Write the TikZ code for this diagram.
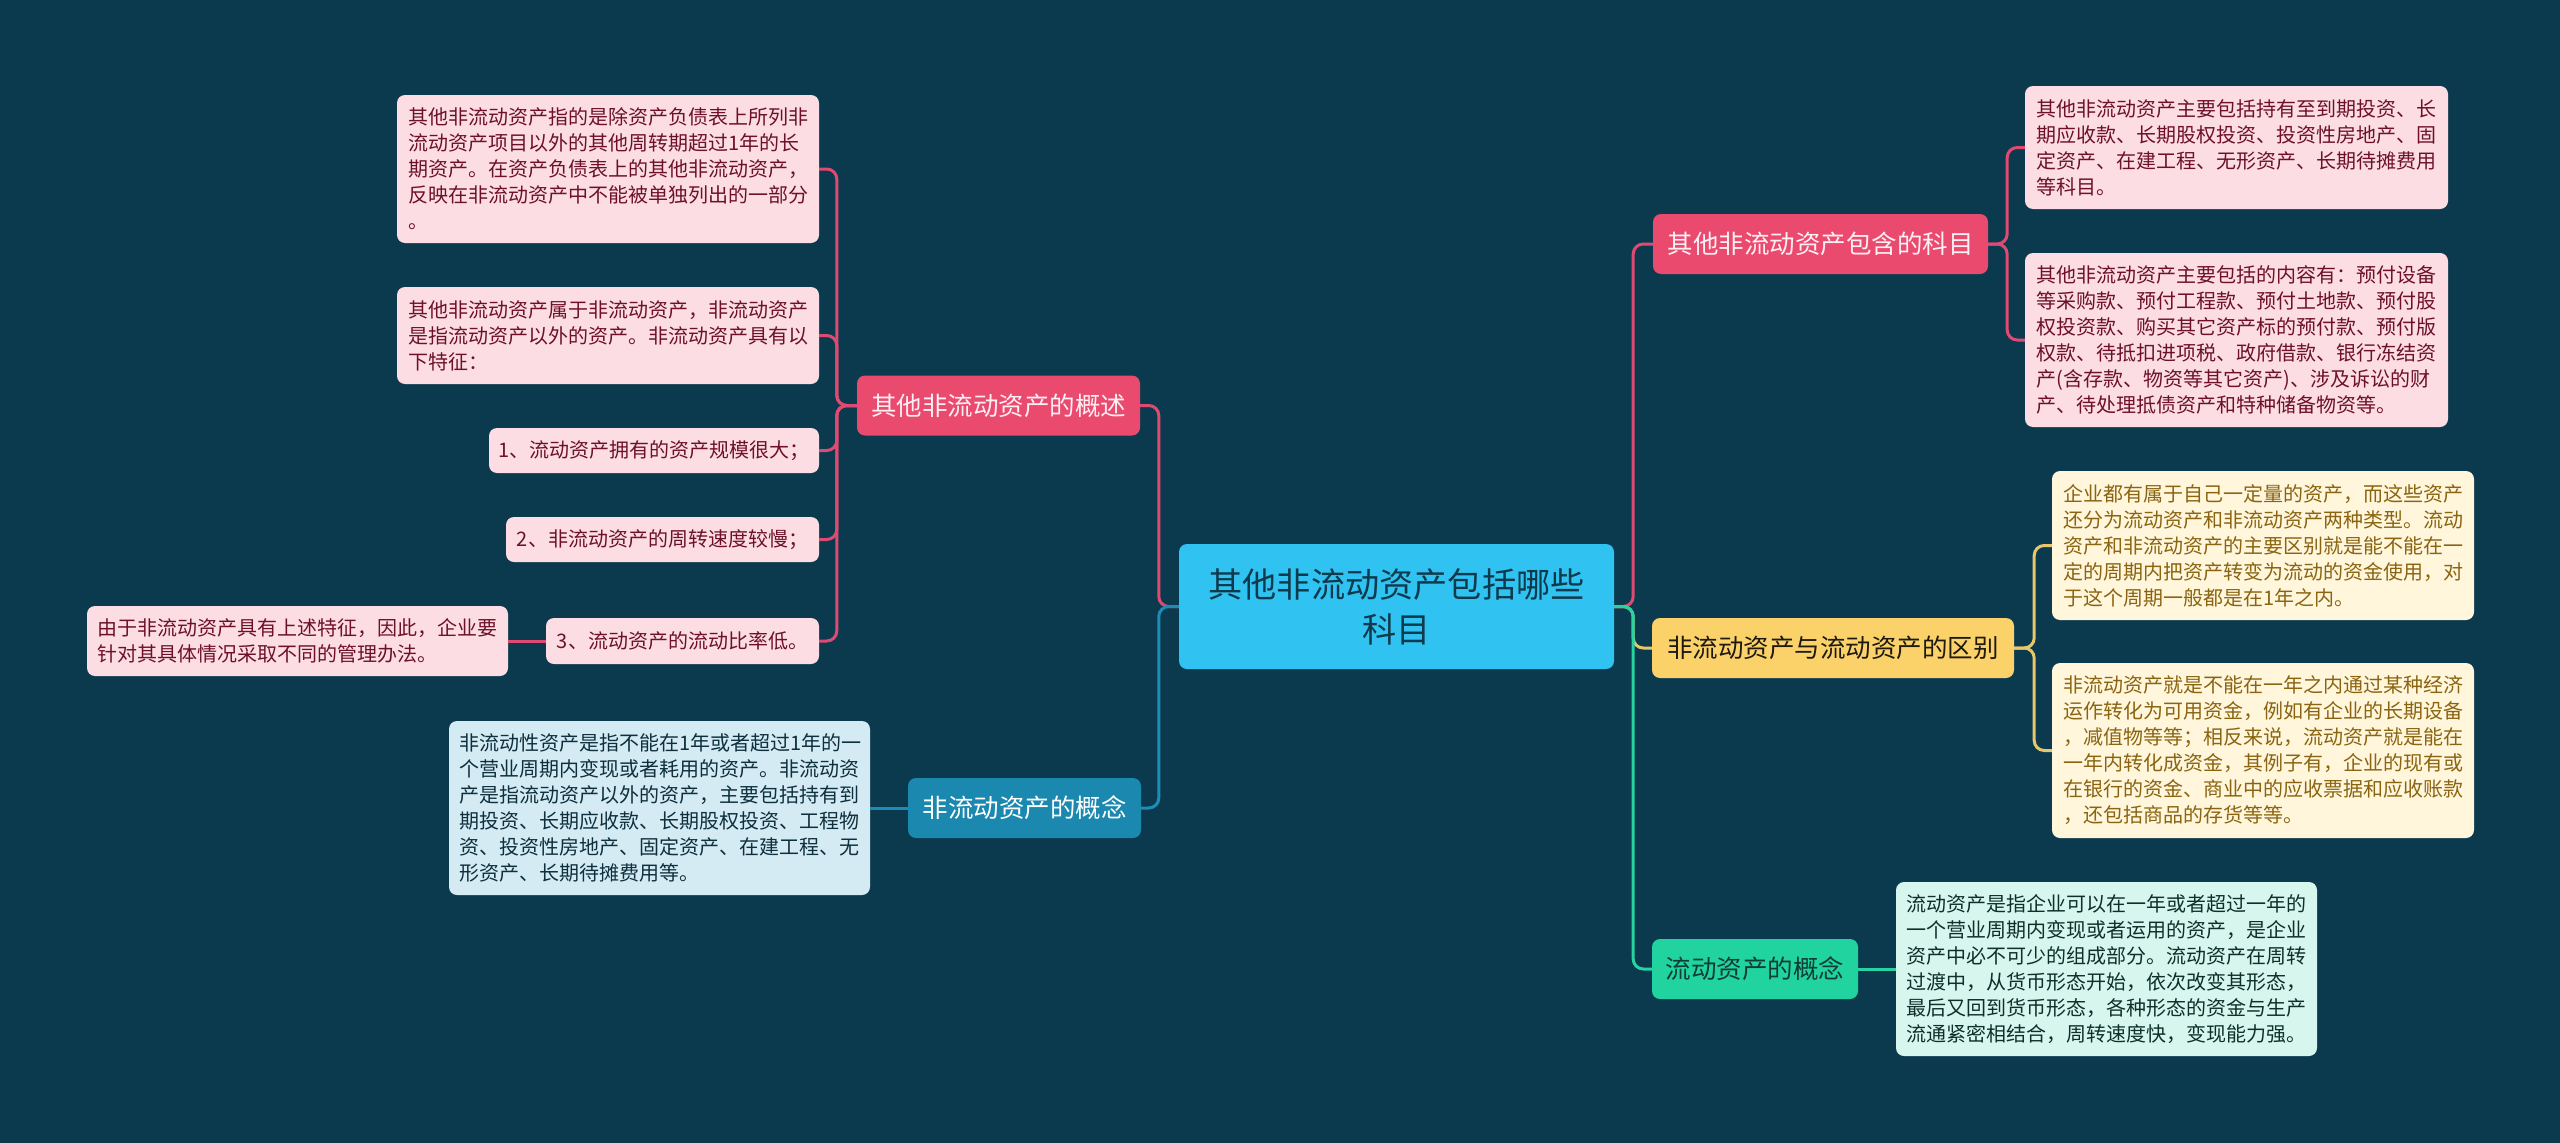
\documentclass[tikz,border=0pt]{standalone}
\usepackage{fontspec}
\newfontfamily\cjk{Noto Sans CJK SC}
\definecolor{bg}{HTML}{0B3A4E}
\definecolor{centerfill}{HTML}{30C3F2}
\definecolor{centertext}{HTML}{0E3A4D}
\definecolor{pinkfill}{HTML}{EB4A6F}
\definecolor{pinktext}{HTML}{FDEFF3}
\definecolor{pinkline}{HTML}{DE4A72}
\definecolor{pleaf}{HTML}{FCDDE4}
\definecolor{pleaftext}{HTML}{6E1128}
\definecolor{bluefill}{HTML}{1A88AF}
\definecolor{blueline}{HTML}{1C8DB6}
\definecolor{bleaf}{HTML}{D5EBF3}
\definecolor{bleaftext}{HTML}{0E2F3D}
\definecolor{yelfill}{HTML}{FBD26A}
\definecolor{yeltext}{HTML}{1E1A10}
\definecolor{yelline}{HTML}{E8C66A}
\definecolor{yleaf}{HTML}{FFF6DC}
\definecolor{yleaftext}{HTML}{8A6410}
\definecolor{grnfill}{HTML}{20D39F}
\definecolor{grntext}{HTML}{0F3D33}
\definecolor{grnline}{HTML}{27D3A2}
\definecolor{gleaf}{HTML}{D6F6EE}
\definecolor{gleaftext}{HTML}{0F2F2A}
\tikzset{
  box/.style={rounded corners=8pt, inner sep=0pt, align=left, anchor=center},
  leaffont/.style={font=\cjk\fontsize{20}{26}\selectfont},
  branchfont/.style={font=\cjk\fontsize{25.5}{30}\selectfont},
  leafP/.style={box, leaffont, fill=pleaf, text=pleaftext},
  leafB/.style={box, leaffont, fill=bleaf, text=bleaftext},
  leafY/.style={box, leaffont, fill=yleaf, text=yleaftext},
  leafG/.style={box, leaffont, fill=gleaf, text=gleaftext},
  brP/.style={box, branchfont, fill=pinkfill, text=pinktext, minimum height=60pt},
  brB/.style={box, branchfont, fill=bluefill, text=white, minimum height=60pt},
  brY/.style={box, branchfont, fill=yelfill, text=yeltext, minimum height=60pt},
  brG/.style={box, branchfont, fill=grnfill, text=grntext, minimum height=60pt},
  centerbox/.style={box, align=center, fill=centerfill, text=centertext,
    font=\cjk\fontsize{34.2}{45}\selectfont},
  link/.style={line width=3pt, rounded corners=10pt},
  linkP/.style={link, draw=pinkline},
  linkB/.style={link, draw=blueline},
  linkY/.style={link, draw=yelline},
  linkG/.style={link, draw=grnline},
}
\begin{document}
\begin{tikzpicture}[x=1pt,y=-1pt]
\fill[bg] (0,0) rectangle (2560,1143);
\useasboundingbox (0,0) rectangle (2560,1143);

% center
\node[centerbox, minimum width=435pt, minimum height=125pt] (c) at (1396.5,606.5)
  {其他非流动资产包括哪些\\科目};

% left branch 1
\node[brP, minimum width=283pt] (b1) at (998.5,405.5) {其他非流动资产的概述};
\node[leafP, minimum width=422pt, minimum height=148pt, text width=400pt] (A) at (608,169)
  {其他非流动资产指的是除资产负债表上所列非\\流动资产项目以外的其他周转期超过1年的长\\期资产。在资产负债表上的其他非流动资产，\\反映在非流动资产中不能被单独列出的一部分\\。};
\node[leafP, minimum width=422pt, minimum height=97pt, text width=400pt] (B) at (608,335.5)
  {其他非流动资产属于非流动资产，非流动资产\\是指流动资产以外的资产。非流动资产具有以\\下特征：};
\node[leafP, minimum width=330pt, minimum height=45pt] (C) at (654,450.5)
  {1、流动资产拥有的资产规模很大；};
\node[leafP, minimum width=313pt, minimum height=45pt] (D) at (662.5,539.5)
  {2、非流动资产的周转速度较慢；};
\node[leafP, minimum width=273pt, minimum height=46pt] (E) at (682.5,641)
  {3、流动资产的流动比率低。};
\node[leafP, minimum width=421pt, minimum height=70pt, text width=400pt] (F) at (297.5,641)
  {由于非流动资产具有上述特征，因此，企业要\\针对其具体情况采取不同的管理办法。};

% left branch 2
\node[brB, minimum width=233pt] (b2) at (1024.5,808) {非流动资产的概念};
\node[leafB, minimum width=421pt, minimum height=174pt, text width=400pt] (G) at (659.5,808)
  {非流动性资产是指不能在1年或者超过1年的一\\个营业周期内变现或者耗用的资产。非流动资\\产是指流动资产以外的资产，主要包括持有到\\期投资、长期应收款、长期股权投资、工程物\\资、投资性房地产、固定资产、在建工程、无\\形资产、长期待摊费用等。};

% right branch 3
\node[brP, minimum width=335pt] (b3) at (1820.5,244) {其他非流动资产包含的科目};
\node[leafP, minimum width=423pt, minimum height=123pt, text width=400pt] (H) at (2236.5,147.5)
  {其他非流动资产主要包括持有至到期投资、长\\期应收款、长期股权投资、投资性房地产、固\\定资产、在建工程、无形资产、长期待摊费用\\等科目。};
\node[leafP, minimum width=423pt, minimum height=174pt, text width=400pt] (I) at (2236.5,340)
  {其他非流动资产主要包括的内容有：预付设备\\等采购款、预付工程款、预付土地款、预付股\\权投资款、购买其它资产标的预付款、预付版\\权款、待抵扣进项税、政府借款、银行冻结资\\产(含存款、物资等其它资产)、涉及诉讼的财\\产、待处理抵债资产和特种储备物资等。};

% right branch 4
\node[brY, minimum width=362pt] (b4) at (1833,648) {非流动资产与流动资产的区别};
\node[leafY, minimum width=422pt, minimum height=149pt, text width=400pt] (J) at (2263,545.5)
  {企业都有属于自己一定量的资产，而这些资产\\还分为流动资产和非流动资产两种类型。流动\\资产和非流动资产的主要区别就是能不能在一\\定的周期内把资产转变为流动的资金使用，对\\于这个周期一般都是在1年之内。};
\node[leafY, minimum width=422pt, minimum height=175pt, text width=400pt] (K) at (2263,750.5)
  {非流动资产就是不能在一年之内通过某种经济\\运作转化为可用资金，例如有企业的长期设备\\，减值物等等；相反来说，流动资产就是能在\\一年内转化成资金，其例子有，企业的现有或\\在银行的资金、商业中的应收票据和应收账款\\，还包括商品的存货等等。};

% right branch 5
\node[brG, minimum width=206pt] (b5) at (1755,969) {流动资产的概念};
\node[leafG, minimum width=421pt, minimum height=174pt, text width=400pt] (L) at (2106.5,969)
  {流动资产是指企业可以在一年或者超过一年的\\一个营业周期内变现或者运用的资产，是企业\\资产中必不可少的组成部分。流动资产在周转\\过渡中，从货币形态开始，依次改变其形态，\\最后又回到货币形态，各种形态的资金与生产\\流通紧密相结合，周转速度快，变现能力强。};

% connectors: center to branches
\draw[linkP] (c.west) -- ++(-20,0) |- (b1.east);
\draw[linkB] (c.west) -- ++(-20,0) |- (b2.east);
\draw[linkP] (c.east) -- ++(19,0) |- (b3.west);
\draw[linkY] (c.east) -- ++(19,0) |- (b4.west);
\draw[linkG] (c.east) -- ++(19,0) |- (b5.west);

% branch 1 to leaves
\foreach \n in {A,B,C,D,E}
  \draw[linkP] (b1.west) -- ++(-20,0) |- (\n.east);
\draw[linkP] (E.west) -- (F.east);

% branch 2
\draw[linkB] (b2.west) -- (G.east);

% branch 3
\draw[linkP] (b3.east) -- ++(19,0) |- (H.west);
\draw[linkP] (b3.east) -- ++(19,0) |- (I.west);

% branch 4
\draw[linkY] (b4.east) -- ++(20,0) |- (J.west);
\draw[linkY] (b4.east) -- ++(20,0) |- (K.west);

% branch 5
\draw[linkG] (b5.east) -- (L.west);
\end{tikzpicture}
\end{document}
